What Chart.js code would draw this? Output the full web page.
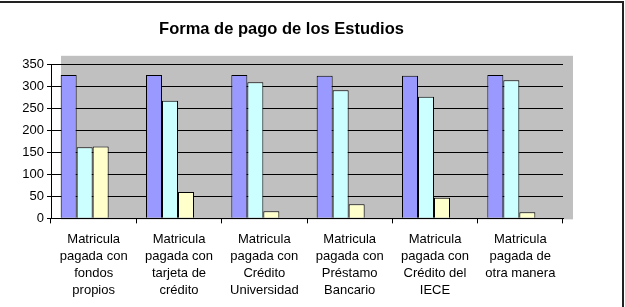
<!DOCTYPE html>
<html>
<head>
<meta charset="utf-8">
<script src="https://cdn.jsdelivr.net/npm/chart.js@4"></script>
<style>
  html, body { margin: 0; padding: 0; background: #fff; }
  #marco { position: absolute; left: 0; top: 1px; width: 624px; height: 330px; border-top: 2px solid #222; border-right: 2px solid #222; box-sizing: border-box; }
  #lienzo { position: absolute; left: 0; top: 0; }
</style>
</head>
<body>
<div id="marco"></div>
<canvas id="lienzo" width="625" height="307"></canvas>
<script>
// Datos del gráfico
const A_categorias = [
  ["Matricula", "pagada con", "fondos", "propios"],
  ["Matricula", "pagada con", "tarjeta de", "crédito"],
  ["Matricula", "pagada con", "Crédito", "Universidad"],
  ["Matricula", "pagada con", "Préstamo", "Bancario"],
  ["Matricula", "pagada con", "Crédito del", "IECE"],
  ["Matricula", "pagada de", "otra manera"]
];
const A_serie1 = [327, 327, 327, 325, 325, 327];
const A_serie2 = [162, 268, 310, 292, 277, 315];
const A_serie3 = [164, 60, 16, 32, 47, 14];
const A_ticksY = [0, 50, 100, 150, 200, 250, 300, 350];

// Pared gris del área de trazado (ligeramente desplazada, como en Excel)
const O_paredPlugin = {
  id: "pared",
  beforeDraw(O_chart) {
    const O_area = O_chart.chartArea;
    const O_ctx = O_chart.ctx;
    O_ctx.save();
    O_ctx.fillStyle = "#c0c0c0";
    O_ctx.fillRect(O_area.left + 10, O_area.top - 9, O_area.right - O_area.left, O_area.bottom - O_area.top + 10);
    O_ctx.restore();
  },
  beforeDatasetsDraw(O_chart) {
    O_chart.ctx.save();
    O_chart.ctx.translate(-9, 0);
  },
  afterDatasetsDraw(O_chart) {
    O_chart.ctx.restore();
  }
};

const O_ctx = document.getElementById("lienzo").getContext("2d");
new Chart(O_ctx, {
  type: "bar",
  data: {
    labels: A_categorias,
    datasets: [
      { data: A_serie1, backgroundColor: "#9999ff", borderColor: "#000", borderWidth: 1 },
      { data: A_serie2, backgroundColor: "#ccffff", borderColor: "#000", borderWidth: 1 },
      { data: A_serie3, backgroundColor: "#ffffcc", borderColor: "#000", borderWidth: 1 }
    ]
  },
  options: {
    responsive: false,
    animation: false,
    devicePixelRatio: 1,
    layout: { padding: { top: 0, right: 62, bottom: 1, left: 0 } },
    datasets: { bar: { categoryPercentage: 0.5625, barPercentage: 1 } },
    plugins: {
      legend: { display: false },
      tooltip: { enabled: false },
      title: {
        display: true,
        text: "Forma de pago de los Estudios",
        color: "#000",
        font: { family: "Liberation Sans, Arial", size: 16.5, weight: "bold" },
        padding: { top: 20, bottom: 25 }
      }
    },
    scales: {
      x: {
        offset: true,
        grid: { display: true, offset: true, drawOnChartArea: false, color: "#000", tickLength: 5 },
        border: { color: "#000" },
        ticks: {
          color: "#000",
          font: { family: "Liberation Sans, Arial", size: 13, lineHeight: 1.32 },
          maxRotation: 0,
          autoSkip: false,
          padding: 7
        }
      },
      y: {
        min: 0,
        max: 350,
        afterBuildTicks(O_axis) {
          O_axis.ticks = A_ticksY.map((I_v) => ({ value: I_v }));
        },
        afterFit(O_axis) {
          O_axis.width = 51;
        },
        grid: { color: "#000", tickLength: 4 },
        border: { color: "#000" },
        ticks: {
          color: "#000",
          font: { family: "Liberation Sans, Arial", size: 13 },
          padding: 3
        }
      }
    }
  },
  plugins: [O_paredPlugin]
});
</script>
</body>
</html>
